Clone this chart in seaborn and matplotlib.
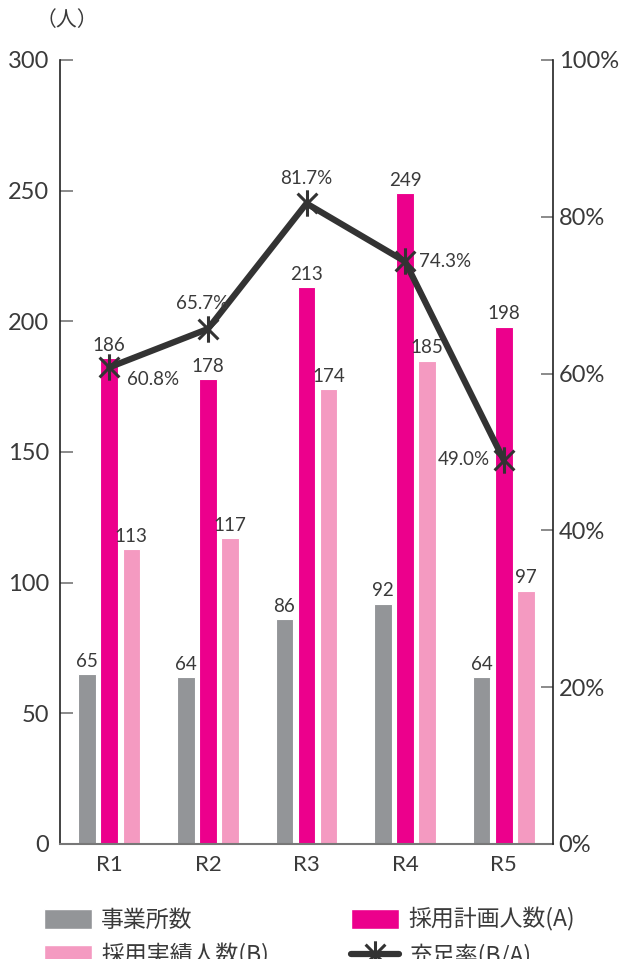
import matplotlib
matplotlib.use("Agg")
import matplotlib.pyplot as plt
from matplotlib.path import Path
from matplotlib.lines import Line2D
from matplotlib.patches import Patch
import seaborn as sns
import pandas as pd
import numpy as np

years = ["R1", "R2", "R3", "R4", "R5"]
offices = [65, 64, 86, 92, 64]
planned = [186, 178, 213, 249, 198]
hired = [113, 117, 174, 185, 97]
rate = [60.8, 65.7, 81.7, 74.3, 49.0]
series_names = ["事業所数", "採用計画人数(A)", "採用実績人数(B)"]
rate_name = "充足率(B/A)"
left_ticks = [0, 50, 100, 150, 200, 250, 300]
right_ticks = [0, 20, 40, 60, 80, 100]

sns.set_theme(style="white")
plt.rcParams['font.family'] = ['Noto Sans CJK JP', 'DejaVu Sans']

NUMFONT = ['Lato', 'DejaVu Sans']
TXT = "#3a3a3a"
colors = ["#939598", "#EC008C", "#F49AC1"]

df = pd.DataFrame({
    "year": years * 3,
    "value": offices + planned + hired,
    "series": [series_names[0]] * 5 + [series_names[1]] * 5 + [series_names[2]] * 5,
})

fig = plt.figure(figsize=(6.22, 9.59), dpi=100)
ax = fig.add_axes([60 / 622, 1 - 844 / 959, (553 - 60) / 622, (844 - 60) / 959])

sns.barplot(data=df, x="year", y="value", hue="series", hue_order=series_names,
            palette=colors, width=0.67, gap=0.2, edgecolor="white", linewidth=0.8,
            ax=ax, legend=False, saturation=1)

ax.set_xlim(-0.5, 4.5)
ax.set_ylim(0, 300)
ax.set_yticks(left_ticks)
ax.set_xlabel("")
ax.set_ylabel("")
ax.tick_params(axis="y", direction="in", length=9, width=1.2, color="#777777",
               labelsize=17, labelcolor=TXT, pad=8)
ax.tick_params(axis="x", length=0, labelsize=16, labelcolor=TXT, pad=8)
for lab in ax.get_yticklabels() + ax.get_xticklabels():
    lab.set_family(NUMFONT)
ax.spines["top"].set_visible(False)
ax.spines["left"].set_color("#222222")
ax.spines["left"].set_linewidth(1.2)
ax.spines["right"].set_visible(False)
ax.spines["bottom"].set_color("#777777")
ax.spines["bottom"].set_linewidth(1.5)

for cont in ax.containers:
    ax.bar_label(cont, padding=3, fontsize=13.5, color=TXT, family=NUMFONT)

ax2 = ax.twinx()
ax2.set_ylim(0, 100)
ax2.set_yticks(right_ticks)
ax2.set_yticklabels([f"{t}%" for t in right_ticks])
ax2.tick_params(axis="y", direction="in", length=9, width=1.2, color="#777777",
                labelsize=17, labelcolor=TXT, pad=4)
for lab in ax2.get_yticklabels():
    lab.set_family(NUMFONT)
for s in ["top", "left", "bottom"]:
    ax2.spines[s].set_visible(False)
ax2.spines["right"].set_color("#222222")
ax2.spines["right"].set_linewidth(1.2)

star = Path([(0, -1), (0, 1), (-0.75, -0.75), (0.75, 0.75), (-0.75, 0.75), (0.75, -0.75)],
            [Path.MOVETO, Path.LINETO, Path.MOVETO, Path.LINETO, Path.MOVETO, Path.LINETO])

sns.lineplot(x=np.arange(len(years)), y=rate, ax=ax2, color="#333333", linewidth=4.5,
             marker=star, markersize=19, markeredgewidth=2.2, markeredgecolor="#333333",
             markerfacecolor="none")
ax2.set_xlim(-0.5, 4.5)

offsets = [(13, -9, "left", "center"), (-4, 12, "center", "bottom"), (0, 12, "center", "bottom"),
           (10, 0, "left", "center"), (-10, 0, "right", "center")]
for i, (r, (dx, dy, ha, va)) in enumerate(zip(rate, offsets)):
    ax2.annotate(f"{r:.1f}%", (i, r), xytext=(dx, dy), textcoords="offset points",
                 ha=ha, va=va, fontsize=13.5, color=TXT, family=NUMFONT)

fig.text(36 / 622, 1 - 20 / 959, "（人）", fontsize=15, color=TXT, ha="left", va="center")

handles = [Patch(facecolor=colors[0]), Patch(facecolor=colors[2]),
           Patch(facecolor=colors[1]),
           Line2D([0], [0], color="#333333", linewidth=4.5, marker=star, markersize=19,
                  markeredgewidth=2.2, markerfacecolor="none")]
labels = [series_names[0], series_names[2], series_names[1], rate_name]
leg = fig.legend(handles, labels, ncol=2, loc="upper left",
                 bbox_to_anchor=(23 / 622, 1 - 887 / 959), frameon=False,
                 fontsize=16.5, handlelength=2.1, handleheight=0.96, columnspacing=3.6,
                 labelspacing=0.52, handletextpad=0.4, labelcolor=TXT)

fig.savefig("out.png", dpi=100)
